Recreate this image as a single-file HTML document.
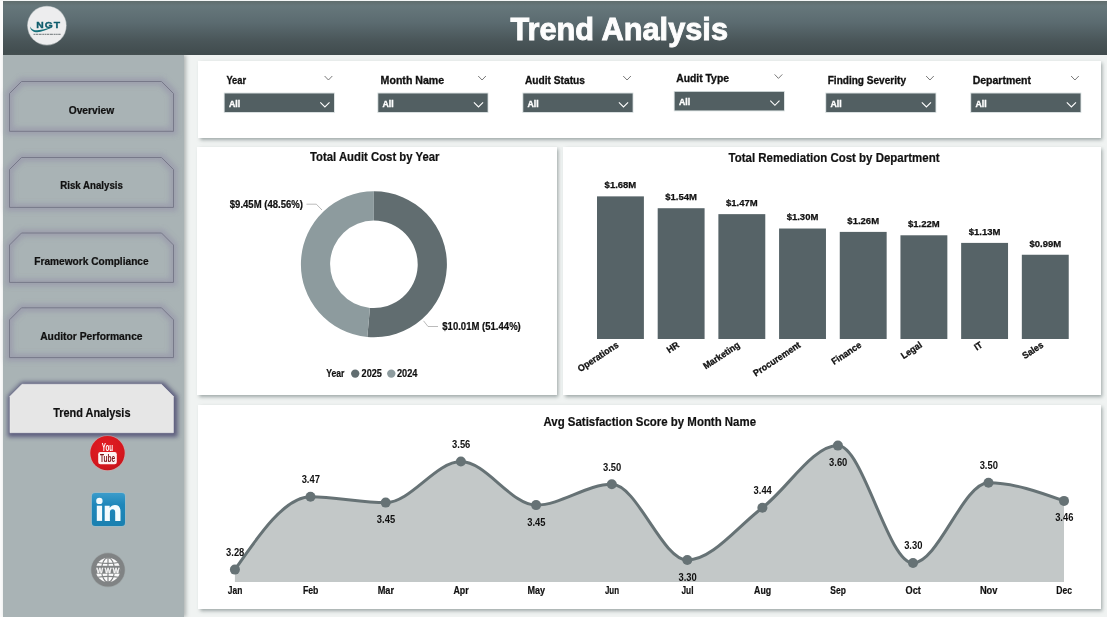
<!DOCTYPE html>
<html>
<head>
<meta charset="utf-8">
<title>Trend Analysis</title>
<style>
html,body{margin:0;padding:0;}
body{width:1107px;height:617px;overflow:hidden;position:relative;background:#f0f3f2;font-family:"Liberation Sans",sans-serif;color:#111;}
.abs{position:absolute;}
#leftstrip{left:0;top:0;width:3px;height:617px;background:#fbfbfb;}
#topstrip{left:0;top:0;width:1107px;height:1px;background:#f4f6f6;}
#header{left:3px;top:1px;width:1104px;height:54px;background:linear-gradient(to bottom,#606d6d 0%,#66777b 9%,#5b6b70 40%,#495558 75%,#404b4d 100%);}
#sidebar{left:3px;top:55px;width:181px;height:562px;background:#a9b3b5;box-shadow:2px 0 4px rgba(90,100,100,0.45);}
.panel{background:#fff;box-shadow:1.5px 2px 3.5px rgba(105,118,118,0.6);}
svg text{font-family:"Liberation Sans",sans-serif;}
</style>
</head>
<body>
<div id="header" class="abs"></div>
<div id="leftstrip" class="abs"></div>
<div id="topstrip" class="abs"></div>
<div id="sidebar" class="abs"></div>
<div class="abs panel" style="left:198px;top:61px;width:903px;height:77px;"></div>
<div class="abs panel" style="left:197px;top:147px;width:360px;height:248px;"></div>
<div class="abs panel" style="left:563px;top:147px;width:538px;height:248px;"></div>
<div class="abs panel" style="left:198px;top:405px;width:903px;height:204px;"></div>
<svg class="abs" style="left:0;top:0;will-change:transform;" width="1107" height="617" viewBox="0 0 1107 617">
<defs>
<filter id="glow" x="-10%" y="-25%" width="120%" height="150%"><feGaussianBlur stdDeviation="2.6"/></filter>
<filter id="glow2" x="-10%" y="-25%" width="120%" height="150%"><feGaussianBlur stdDeviation="2.1"/></filter>
<clipPath id="logoclip"><circle cx="47" cy="26" r="19.3"/></clipPath>
</defs>
<path d="M9.5 93.5 L21.5 81.5 L161.5 81.5 L173.5 93.5 L173.5 131.3 L9.5 131.3 Z" fill="none" stroke="#999aab" stroke-width="7.5" filter="url(#glow)" opacity="0.8"/>
<path d="M9.5 93.5 L21.5 81.5 L161.5 81.5 L173.5 93.5 L173.5 131.3 L9.5 131.3 Z" fill="none" stroke="#777989" stroke-width="1"/>
<text x="68.70" y="113.80" font-size="10.1" font-weight="bold" fill="#111" text-anchor="start" stroke="#111" stroke-width="0.22" textLength="45.40" lengthAdjust="spacingAndGlyphs" >Overview</text>
<path d="M9.5 169.5 L21.5 157.5 L161.5 157.5 L173.5 169.5 L173.5 207.4 L9.5 207.4 Z" fill="none" stroke="#999aab" stroke-width="7.5" filter="url(#glow)" opacity="0.8"/>
<path d="M9.5 169.5 L21.5 157.5 L161.5 157.5 L173.5 169.5 L173.5 207.4 L9.5 207.4 Z" fill="none" stroke="#777989" stroke-width="1"/>
<text x="60.30" y="188.90" font-size="10.1" font-weight="bold" fill="#111" text-anchor="start" stroke="#111" stroke-width="0.22" textLength="62.60" lengthAdjust="spacingAndGlyphs" >Risk Analysis</text>
<path d="M9.5 245 L21.5 233 L161.5 233 L173.5 245 L173.5 282.4 L9.5 282.4 Z" fill="none" stroke="#999aab" stroke-width="7.5" filter="url(#glow)" opacity="0.8"/>
<path d="M9.5 245 L21.5 233 L161.5 233 L173.5 245 L173.5 282.4 L9.5 282.4 Z" fill="none" stroke="#777989" stroke-width="1"/>
<text x="34.30" y="264.70" font-size="10.1" font-weight="bold" fill="#111" text-anchor="start" stroke="#111" stroke-width="0.22" textLength="114.30" lengthAdjust="spacingAndGlyphs" >Framework Compliance</text>
<path d="M9.5 319.8 L21.5 307.8 L161.5 307.8 L173.5 319.8 L173.5 357.6 L9.5 357.6 Z" fill="none" stroke="#999aab" stroke-width="7.5" filter="url(#glow)" opacity="0.8"/>
<path d="M9.5 319.8 L21.5 307.8 L161.5 307.8 L173.5 319.8 L173.5 357.6 L9.5 357.6 Z" fill="none" stroke="#777989" stroke-width="1"/>
<text x="40.20" y="340.00" font-size="10.1" font-weight="bold" fill="#111" text-anchor="start" stroke="#111" stroke-width="0.22" textLength="102.40" lengthAdjust="spacingAndGlyphs" >Auditor Performance</text>
<path d="M10 396.3 L22 384.3 L161.4 384.3 L173.4 396.3 L173.4 432.7 L10 432.7 Z" transform="translate(1,1)" fill="#5a5a7b" stroke="#5a5a7b" stroke-width="6.5" filter="url(#glow2)" opacity="0.95"/>
<path d="M10 396.3 L22 384.3 L161.4 384.3 L173.4 396.3 L173.4 432.7 L10 432.7 Z" fill="#e6e6e6" stroke="#ececec" stroke-width="0.6"/>
<text x="53.20" y="416.70" font-size="11.9" font-weight="bold" fill="#111" text-anchor="start" stroke="#111" stroke-width="0.2" textLength="77.30" lengthAdjust="spacingAndGlyphs" >Trend Analysis</text>
<text x="226.40" y="83.90" font-size="10.1" font-weight="bold" fill="#111" text-anchor="start" stroke="#111" stroke-width="0.3" textLength="19.70" lengthAdjust="spacingAndGlyphs" >Year</text>
<rect x="223.80" y="92.60" width="111.00" height="20.30" fill="#d5dcdd"/>
<rect x="224.70" y="93.50" width="109.30" height="18.50" fill="#525f62"/>
<text x="228.90" y="106.80" font-size="9.4" font-weight="bold" fill="#fff" text-anchor="start" stroke="#fff" stroke-width="0.4" textLength="11.20" lengthAdjust="spacingAndGlyphs" >All</text>
<path d="M320.30 102.30 L324.90 106.90 L329.50 102.30" fill="none" stroke="#fff" stroke-width="1.1" stroke-linecap="butt" stroke-linejoin="miter"/>
<path d="M324.60 76.00 L328.45 80.00 L332.30 76.00" fill="none" stroke="#6a6a6a" stroke-width="0.9" stroke-linecap="butt" stroke-linejoin="miter"/>
<text x="380.60" y="83.90" font-size="10.1" font-weight="bold" fill="#111" text-anchor="start" stroke="#111" stroke-width="0.3" textLength="63.60" lengthAdjust="spacingAndGlyphs" >Month Name</text>
<rect x="377.40" y="92.60" width="111.00" height="20.30" fill="#d5dcdd"/>
<rect x="378.30" y="93.50" width="109.30" height="18.50" fill="#525f62"/>
<text x="382.50" y="106.80" font-size="9.4" font-weight="bold" fill="#fff" text-anchor="start" stroke="#fff" stroke-width="0.4" textLength="11.20" lengthAdjust="spacingAndGlyphs" >All</text>
<path d="M473.90 102.30 L478.50 106.90 L483.10 102.30" fill="none" stroke="#fff" stroke-width="1.1" stroke-linecap="butt" stroke-linejoin="miter"/>
<path d="M478.20 76.00 L482.05 80.00 L485.90 76.00" fill="none" stroke="#6a6a6a" stroke-width="0.9" stroke-linecap="butt" stroke-linejoin="miter"/>
<text x="525.00" y="83.90" font-size="10.1" font-weight="bold" fill="#111" text-anchor="start" stroke="#111" stroke-width="0.3" textLength="59.90" lengthAdjust="spacingAndGlyphs" >Audit Status</text>
<rect x="522.40" y="92.60" width="111.00" height="20.30" fill="#d5dcdd"/>
<rect x="523.30" y="93.50" width="109.30" height="18.50" fill="#525f62"/>
<text x="527.50" y="106.80" font-size="9.4" font-weight="bold" fill="#fff" text-anchor="start" stroke="#fff" stroke-width="0.4" textLength="11.20" lengthAdjust="spacingAndGlyphs" >All</text>
<path d="M618.90 102.30 L623.50 106.90 L628.10 102.30" fill="none" stroke="#fff" stroke-width="1.1" stroke-linecap="butt" stroke-linejoin="miter"/>
<path d="M623.20 76.00 L627.05 80.00 L630.90 76.00" fill="none" stroke="#6a6a6a" stroke-width="0.9" stroke-linecap="butt" stroke-linejoin="miter"/>
<text x="676.20" y="81.82" font-size="10.1" font-weight="bold" fill="#111" text-anchor="start" stroke="#111" stroke-width="0.3" textLength="52.80" lengthAdjust="spacingAndGlyphs" >Audit Type</text>
<rect x="673.80" y="91.00" width="111.00" height="20.30" fill="#d5dcdd"/>
<rect x="674.70" y="91.90" width="109.30" height="18.50" fill="#525f62"/>
<text x="678.90" y="105.20" font-size="9.4" font-weight="bold" fill="#fff" text-anchor="start" stroke="#fff" stroke-width="0.4" textLength="11.20" lengthAdjust="spacingAndGlyphs" >All</text>
<path d="M770.30 100.70 L774.90 105.30 L779.50 100.70" fill="none" stroke="#fff" stroke-width="1.1" stroke-linecap="butt" stroke-linejoin="miter"/>
<path d="M774.60 74.40 L778.45 78.40 L782.30 74.40" fill="none" stroke="#6a6a6a" stroke-width="0.9" stroke-linecap="butt" stroke-linejoin="miter"/>
<text x="827.70" y="83.90" font-size="10.1" font-weight="bold" fill="#111" text-anchor="start" stroke="#111" stroke-width="0.3" textLength="78.30" lengthAdjust="spacingAndGlyphs" >Finding Severity</text>
<rect x="825.30" y="92.60" width="111.00" height="20.30" fill="#d5dcdd"/>
<rect x="826.20" y="93.50" width="109.30" height="18.50" fill="#525f62"/>
<text x="830.40" y="106.80" font-size="9.4" font-weight="bold" fill="#fff" text-anchor="start" stroke="#fff" stroke-width="0.4" textLength="11.20" lengthAdjust="spacingAndGlyphs" >All</text>
<path d="M921.80 102.30 L926.40 106.90 L931.00 102.30" fill="none" stroke="#fff" stroke-width="1.1" stroke-linecap="butt" stroke-linejoin="miter"/>
<path d="M926.10 76.00 L929.95 80.00 L933.80 76.00" fill="none" stroke="#6a6a6a" stroke-width="0.9" stroke-linecap="butt" stroke-linejoin="miter"/>
<text x="972.70" y="83.90" font-size="10.1" font-weight="bold" fill="#111" text-anchor="start" stroke="#111" stroke-width="0.3" textLength="58.30" lengthAdjust="spacingAndGlyphs" >Department</text>
<rect x="970.30" y="92.60" width="111.00" height="20.30" fill="#d5dcdd"/>
<rect x="971.20" y="93.50" width="109.30" height="18.50" fill="#525f62"/>
<text x="975.40" y="106.80" font-size="9.4" font-weight="bold" fill="#fff" text-anchor="start" stroke="#fff" stroke-width="0.4" textLength="11.20" lengthAdjust="spacingAndGlyphs" >All</text>
<path d="M1066.80 102.30 L1071.40 106.90 L1076.00 102.30" fill="none" stroke="#fff" stroke-width="1.1" stroke-linecap="butt" stroke-linejoin="miter"/>
<path d="M1071.10 76.00 L1074.95 80.00 L1078.80 76.00" fill="none" stroke="#6a6a6a" stroke-width="0.9" stroke-linecap="butt" stroke-linejoin="miter"/>
<text x="510.40" y="39.60" font-size="30.6" font-weight="bold" fill="#fdfdfd" text-anchor="start" stroke="#fdfdfd" stroke-width="0.9" textLength="217.60" lengthAdjust="spacingAndGlyphs" >Trend Analysis</text>
<text x="310.00" y="160.50" font-size="11.9" font-weight="bold" fill="#111" text-anchor="start" stroke="#111" stroke-width="0.2" textLength="129.40" lengthAdjust="spacingAndGlyphs" >Total Audit Cost by Year</text>
<text x="728.50" y="161.50" font-size="11.9" font-weight="bold" fill="#111" text-anchor="start" stroke="#111" stroke-width="0.2" textLength="211.00" lengthAdjust="spacingAndGlyphs" >Total Remediation Cost by Department</text>
<text x="543.50" y="425.90" font-size="11.9" font-weight="bold" fill="#111" text-anchor="start" stroke="#111" stroke-width="0.2" textLength="212.50" lengthAdjust="spacingAndGlyphs" >Avg Satisfaction Score by Month Name</text>
<path d="M373.90 191.30 A73.0 73.0 0 1 1 367.30 337.00 L369.94 307.92 A43.8 43.8 0 1 0 373.90 220.50 Z" fill="#616d70"/>
<path d="M367.30 337.00 A73.0 73.0 0 0 1 373.90 191.30 L373.90 220.50 A43.8 43.8 0 0 0 369.94 307.92 Z" fill="#8d9b9e"/>
<text x="229.80" y="207.90" font-size="10" font-weight="bold" fill="#111" text-anchor="start" stroke="#111" stroke-width="0.2" textLength="73.20" lengthAdjust="spacingAndGlyphs" >$9.45M (48.56%)</text>
<text x="442.30" y="330.05" font-size="10" font-weight="bold" fill="#111" text-anchor="start" stroke="#111" stroke-width="0.2" textLength="78.50" lengthAdjust="spacingAndGlyphs" >$10.01M (51.44%)</text>
<path d="M306.5 204.2 L316.3 204.2 L322 210" fill="none" stroke="#aaa" stroke-width="0.8"/>
<path d="M423.5 320.8 L428 326.5 L438 326.5" fill="none" stroke="#aaa" stroke-width="0.8"/>
<text x="326.20" y="377.00" font-size="10" font-weight="bold" fill="#111" text-anchor="start" stroke="#111" stroke-width="0.2" textLength="18.20" lengthAdjust="spacingAndGlyphs" >Year</text>
<circle cx="355.2" cy="373.6" r="4.2" fill="#616d70"/>
<text x="361.60" y="377.00" font-size="10" font-weight="bold" fill="#111" text-anchor="start" stroke="#111" stroke-width="0.2" textLength="20.30" lengthAdjust="spacingAndGlyphs" >2025</text>
<circle cx="391.3" cy="373.6" r="4.2" fill="#8d9b9e"/>
<text x="397.00" y="377.00" font-size="10" font-weight="bold" fill="#111" text-anchor="start" stroke="#111" stroke-width="0.2" textLength="20.50" lengthAdjust="spacingAndGlyphs" >2024</text>
<rect x="597.00" y="196.37" width="46.9" height="142.63" fill="#566367"/>
<text x="620.45" y="188.17" font-size="9.4" font-weight="bold" fill="#111" text-anchor="middle" stroke="#111" stroke-width="0.25" textLength="31.70" lengthAdjust="spacingAndGlyphs" >$1.68M</text>
<text x="0" y="0" font-size="9.3" font-weight="bold" fill="#111" stroke="#111" stroke-width="0.3" text-anchor="end" transform="translate(619.25,346.50) rotate(-33.5) scale(0.955,1)">Operations</text>
<rect x="657.69" y="208.22" width="46.9" height="130.78" fill="#566367"/>
<text x="681.14" y="200.02" font-size="9.4" font-weight="bold" fill="#111" text-anchor="middle" stroke="#111" stroke-width="0.25" textLength="31.70" lengthAdjust="spacingAndGlyphs" >$1.54M</text>
<text x="0" y="0" font-size="9.3" font-weight="bold" fill="#111" stroke="#111" stroke-width="0.3" text-anchor="end" transform="translate(679.94,346.50) rotate(-33.5) scale(0.955,1)">HR</text>
<rect x="718.38" y="214.14" width="46.9" height="124.86" fill="#566367"/>
<text x="741.83" y="205.94" font-size="9.4" font-weight="bold" fill="#111" text-anchor="middle" stroke="#111" stroke-width="0.25" textLength="31.70" lengthAdjust="spacingAndGlyphs" >$1.47M</text>
<text x="0" y="0" font-size="9.3" font-weight="bold" fill="#111" stroke="#111" stroke-width="0.3" text-anchor="end" transform="translate(740.63,346.50) rotate(-33.5) scale(0.955,1)">Marketing</text>
<rect x="779.07" y="228.52" width="46.9" height="110.48" fill="#566367"/>
<text x="802.52" y="220.32" font-size="9.4" font-weight="bold" fill="#111" text-anchor="middle" stroke="#111" stroke-width="0.25" textLength="31.70" lengthAdjust="spacingAndGlyphs" >$1.30M</text>
<text x="0" y="0" font-size="9.3" font-weight="bold" fill="#111" stroke="#111" stroke-width="0.3" text-anchor="end" transform="translate(801.32,346.50) rotate(-33.5) scale(0.955,1)">Procurement</text>
<rect x="839.76" y="231.90" width="46.9" height="107.10" fill="#566367"/>
<text x="863.21" y="223.70" font-size="9.4" font-weight="bold" fill="#111" text-anchor="middle" stroke="#111" stroke-width="0.25" textLength="31.70" lengthAdjust="spacingAndGlyphs" >$1.26M</text>
<text x="0" y="0" font-size="9.3" font-weight="bold" fill="#111" stroke="#111" stroke-width="0.3" text-anchor="end" transform="translate(862.01,346.50) rotate(-33.5) scale(0.955,1)">Finance</text>
<rect x="900.45" y="235.29" width="46.9" height="103.71" fill="#566367"/>
<text x="923.90" y="227.09" font-size="9.4" font-weight="bold" fill="#111" text-anchor="middle" stroke="#111" stroke-width="0.25" textLength="31.70" lengthAdjust="spacingAndGlyphs" >$1.22M</text>
<text x="0" y="0" font-size="9.3" font-weight="bold" fill="#111" stroke="#111" stroke-width="0.3" text-anchor="end" transform="translate(922.70,346.50) rotate(-33.5) scale(0.955,1)">Legal</text>
<rect x="961.14" y="242.90" width="46.9" height="96.10" fill="#566367"/>
<text x="984.59" y="234.70" font-size="9.4" font-weight="bold" fill="#111" text-anchor="middle" stroke="#111" stroke-width="0.25" textLength="31.70" lengthAdjust="spacingAndGlyphs" >$1.13M</text>
<text x="0" y="0" font-size="9.3" font-weight="bold" fill="#111" stroke="#111" stroke-width="0.3" text-anchor="end" transform="translate(983.39,346.50) rotate(-33.5) scale(0.955,1)">IT</text>
<rect x="1021.83" y="254.75" width="46.9" height="84.25" fill="#566367"/>
<text x="1045.28" y="246.55" font-size="9.4" font-weight="bold" fill="#111" text-anchor="middle" stroke="#111" stroke-width="0.25" textLength="31.70" lengthAdjust="spacingAndGlyphs" >$0.99M</text>
<text x="0" y="0" font-size="9.3" font-weight="bold" fill="#111" stroke="#111" stroke-width="0.3" text-anchor="end" transform="translate(1044.08,346.50) rotate(-33.5) scale(0.955,1)">Sales</text>
<path d="M234.90 569.60 C260.10 533.20 285.30 496.80 310.50 496.80 C335.57 496.80 360.63 502.60 385.70 502.60 C410.77 502.60 435.83 461.50 460.90 461.50 C485.97 461.50 511.03 505.10 536.10 505.10 C561.33 505.10 586.57 484.30 611.80 484.30 C636.97 484.30 662.13 560.00 687.30 560.00 C712.33 560.00 737.37 526.71 762.40 507.70 C787.57 488.59 812.73 445.60 837.90 445.60 C862.93 445.60 887.97 563.00 913.00 563.00 C938.17 563.00 963.33 482.80 988.50 482.80 C1013.67 482.80 1038.83 491.85 1064.00 500.90 L1064.00 582.0 L234.90 582.0 Z" fill="#c3c8c8"/>
<path d="M234.90 569.60 C260.10 533.20 285.30 496.80 310.50 496.80 C335.57 496.80 360.63 502.60 385.70 502.60 C410.77 502.60 435.83 461.50 460.90 461.50 C485.97 461.50 511.03 505.10 536.10 505.10 C561.33 505.10 586.57 484.30 611.80 484.30 C636.97 484.30 662.13 560.00 687.30 560.00 C712.33 560.00 737.37 526.71 762.40 507.70 C787.57 488.59 812.73 445.60 837.90 445.60 C862.93 445.60 887.97 563.00 913.00 563.00 C938.17 563.00 963.33 482.80 988.50 482.80 C1013.67 482.80 1038.83 491.85 1064.00 500.90" fill="none" stroke="#667275" stroke-width="3" stroke-linejoin="round" stroke-linecap="round"/>
<circle cx="234.90" cy="569.60" r="5" fill="#667275"/>
<text x="235.20" y="556.00" font-size="10.4" font-weight="bold" fill="#111" text-anchor="middle" textLength="18.30" lengthAdjust="spacingAndGlyphs" >3.28</text>
<text x="227.85" y="594.10" font-size="10" font-weight="bold" fill="#111" text-anchor="start" stroke="#111" stroke-width="0.2" textLength="14.50" lengthAdjust="spacingAndGlyphs" >Jan</text>
<circle cx="310.50" cy="496.80" r="5" fill="#667275"/>
<text x="310.80" y="483.20" font-size="10.4" font-weight="bold" fill="#111" text-anchor="middle" textLength="18.30" lengthAdjust="spacingAndGlyphs" >3.47</text>
<text x="302.95" y="594.10" font-size="10" font-weight="bold" fill="#111" text-anchor="start" stroke="#111" stroke-width="0.2" textLength="15.50" lengthAdjust="spacingAndGlyphs" >Feb</text>
<circle cx="385.70" cy="502.60" r="5" fill="#667275"/>
<text x="386.00" y="523.10" font-size="10.4" font-weight="bold" fill="#111" text-anchor="middle" textLength="18.30" lengthAdjust="spacingAndGlyphs" >3.45</text>
<text x="377.70" y="594.10" font-size="10" font-weight="bold" fill="#111" text-anchor="start" stroke="#111" stroke-width="0.2" textLength="16.40" lengthAdjust="spacingAndGlyphs" >Mar</text>
<circle cx="460.90" cy="461.50" r="5" fill="#667275"/>
<text x="461.20" y="447.90" font-size="10.4" font-weight="bold" fill="#111" text-anchor="middle" textLength="18.30" lengthAdjust="spacingAndGlyphs" >3.56</text>
<text x="453.45" y="594.10" font-size="10" font-weight="bold" fill="#111" text-anchor="start" stroke="#111" stroke-width="0.2" textLength="15.30" lengthAdjust="spacingAndGlyphs" >Apr</text>
<circle cx="536.10" cy="505.10" r="5" fill="#667275"/>
<text x="536.40" y="525.60" font-size="10.4" font-weight="bold" fill="#111" text-anchor="middle" textLength="18.30" lengthAdjust="spacingAndGlyphs" >3.45</text>
<text x="527.50" y="594.10" font-size="10" font-weight="bold" fill="#111" text-anchor="start" stroke="#111" stroke-width="0.2" textLength="17.60" lengthAdjust="spacingAndGlyphs" >May</text>
<circle cx="611.80" cy="484.30" r="5" fill="#667275"/>
<text x="612.10" y="470.70" font-size="10.4" font-weight="bold" fill="#111" text-anchor="middle" textLength="18.30" lengthAdjust="spacingAndGlyphs" >3.50</text>
<text x="604.95" y="594.10" font-size="10" font-weight="bold" fill="#111" text-anchor="start" stroke="#111" stroke-width="0.2" textLength="14.10" lengthAdjust="spacingAndGlyphs" >Jun</text>
<circle cx="687.30" cy="560.00" r="5" fill="#667275"/>
<text x="687.60" y="581.30" font-size="10.4" font-weight="bold" fill="#111" text-anchor="middle" textLength="18.30" lengthAdjust="spacingAndGlyphs" >3.30</text>
<text x="681.50" y="594.10" font-size="10" font-weight="bold" fill="#111" text-anchor="start" stroke="#111" stroke-width="0.2" textLength="12.00" lengthAdjust="spacingAndGlyphs" >Jul</text>
<circle cx="762.40" cy="507.70" r="5" fill="#667275"/>
<text x="762.70" y="494.10" font-size="10.4" font-weight="bold" fill="#111" text-anchor="middle" textLength="18.30" lengthAdjust="spacingAndGlyphs" >3.44</text>
<text x="754.05" y="594.10" font-size="10" font-weight="bold" fill="#111" text-anchor="start" stroke="#111" stroke-width="0.2" textLength="17.10" lengthAdjust="spacingAndGlyphs" >Aug</text>
<circle cx="837.90" cy="445.60" r="5" fill="#667275"/>
<text x="838.20" y="466.10" font-size="10.4" font-weight="bold" fill="#111" text-anchor="middle" textLength="18.30" lengthAdjust="spacingAndGlyphs" >3.60</text>
<text x="830.35" y="594.10" font-size="10" font-weight="bold" fill="#111" text-anchor="start" stroke="#111" stroke-width="0.2" textLength="15.50" lengthAdjust="spacingAndGlyphs" >Sep</text>
<circle cx="913.00" cy="563.00" r="5" fill="#667275"/>
<text x="913.30" y="549.40" font-size="10.4" font-weight="bold" fill="#111" text-anchor="middle" textLength="18.30" lengthAdjust="spacingAndGlyphs" >3.30</text>
<text x="905.55" y="594.10" font-size="10" font-weight="bold" fill="#111" text-anchor="start" stroke="#111" stroke-width="0.2" textLength="15.30" lengthAdjust="spacingAndGlyphs" >Oct</text>
<circle cx="988.50" cy="482.80" r="5" fill="#667275"/>
<text x="988.80" y="469.20" font-size="10.4" font-weight="bold" fill="#111" text-anchor="middle" textLength="18.30" lengthAdjust="spacingAndGlyphs" >3.50</text>
<text x="979.90" y="594.10" font-size="10" font-weight="bold" fill="#111" text-anchor="start" stroke="#111" stroke-width="0.2" textLength="17.60" lengthAdjust="spacingAndGlyphs" >Nov</text>
<circle cx="1064.00" cy="500.90" r="5" fill="#667275"/>
<text x="1064.30" y="521.40" font-size="10.4" font-weight="bold" fill="#111" text-anchor="middle" textLength="18.30" lengthAdjust="spacingAndGlyphs" >3.46</text>
<text x="1056.35" y="594.10" font-size="10" font-weight="bold" fill="#111" text-anchor="start" stroke="#111" stroke-width="0.2" textLength="15.70" lengthAdjust="spacingAndGlyphs" >Dec</text>
<circle cx="46.9" cy="25.6" r="19.8" fill="#dfe1e1" opacity="0.55"/>
<circle cx="46.9" cy="25.6" r="19.2" fill="#ededee"/>
<text x="36.3" y="27.7" font-size="9.3" font-weight="bold" fill="#0f5c6c" stroke="#0f5c6c" stroke-width="0.35" textLength="24.8" lengthAdjust="spacingAndGlyphs" letter-spacing="0.9">NGT</text>
<path d="M30.0 26.4 C31.5 30.2 36.5 30.9 41 29.8 C45 28.8 48 27.7 52.5 27.4 C48 28.6 45.5 30.6 40.5 31.8 C35 33 30.4 31.2 30.0 26.4 Z" fill="#17727c"/>
<path d="M33.5 34.3 H60.8" stroke="#3a4446" stroke-width="0.9" stroke-dasharray="1.6 0.5 2.4 0.6 3 0.7 2 0.5" fill="none" opacity="0.8"/>
<defs><radialGradient id="ytg" cx="0.45" cy="0.35" r="0.75"><stop offset="0" stop-color="#e21d23"/><stop offset="0.7" stop-color="#d4161d"/><stop offset="1" stop-color="#b8141c"/></radialGradient></defs>
<circle cx="107.5" cy="453.1" r="17.9" fill="#e59a9c" opacity="0.55"/>
<circle cx="107.5" cy="453.1" r="17.2" fill="url(#ytg)"/>
<text x="101.8" y="451" font-size="11.8" font-weight="bold" fill="#fff" textLength="11.3" lengthAdjust="spacingAndGlyphs">You</text>
<rect x="98.2" y="452" width="18.6" height="12.3" rx="2.2" ry="2.2" fill="#fdf3f3"/>
<text x="99.9" y="462" font-size="11.2" font-weight="bold" fill="#7a1418" textLength="15.2" lengthAdjust="spacingAndGlyphs">Tube</text>
<defs><linearGradient id="lig" x1="0" y1="0" x2="0" y2="1"><stop offset="0" stop-color="#3b9ccb"/><stop offset="0.35" stop-color="#1f87ba"/><stop offset="1" stop-color="#1a80b0"/></linearGradient></defs>
<rect x="91.2" y="492.3" width="34.5" height="34.4" rx="4" ry="4" fill="#8fc3d8" opacity="0.6"/>
<rect x="91.9" y="493" width="33.1" height="33" rx="3.2" ry="3.2" fill="url(#lig)"/>
<circle cx="99.4" cy="500.9" r="3.2" fill="#f4fbfd"/>
<rect x="96.8" y="505.7" width="5.3" height="15.2" fill="#f4fbfd"/>
<path d="M104.7 505.7 H109.7 V507.9 C110.8 506 112.8 505 115 505 C118.8 505 120.5 507.5 120.5 511.5 V520.9 H115.2 V512.4 C115.2 510.3 114.4 509.2 112.7 509.2 C110.9 509.2 109.9 510.4 109.9 512.4 V520.9 H104.7 Z" fill="#f4fbfd"/>
<circle cx="108.0" cy="569.9" r="17.3" fill="#8f9596" opacity="0.5"/>
<circle cx="108.0" cy="569.9" r="16.7" fill="#808384"/>
<circle cx="108.0" cy="569.9" r="12.2" fill="#fbfbfb"/>
<g fill="none" stroke="#808384" stroke-width="1.15"><ellipse cx="108.0" cy="569.9" rx="6.4" ry="12.2"/><line x1="108.0" y1="557.6999999999999" x2="108.0" y2="582.1"/><path d="M97.4 562.5 Q108.0 564.3 118.6 562.5"/><path d="M97.4 577.3 Q108.0 575.5 118.6 577.3"/></g>
<rect x="95.4" y="565.8" width="25.2" height="7.9" fill="#808384"/>
<text x="108.0" y="572.8" font-size="7" font-weight="bold" fill="#f6f6f6" stroke="#f6f6f6" stroke-width="0.3" text-anchor="middle" textLength="22.8" lengthAdjust="spacing">WWW</text>
</svg>
</body>
</html>
